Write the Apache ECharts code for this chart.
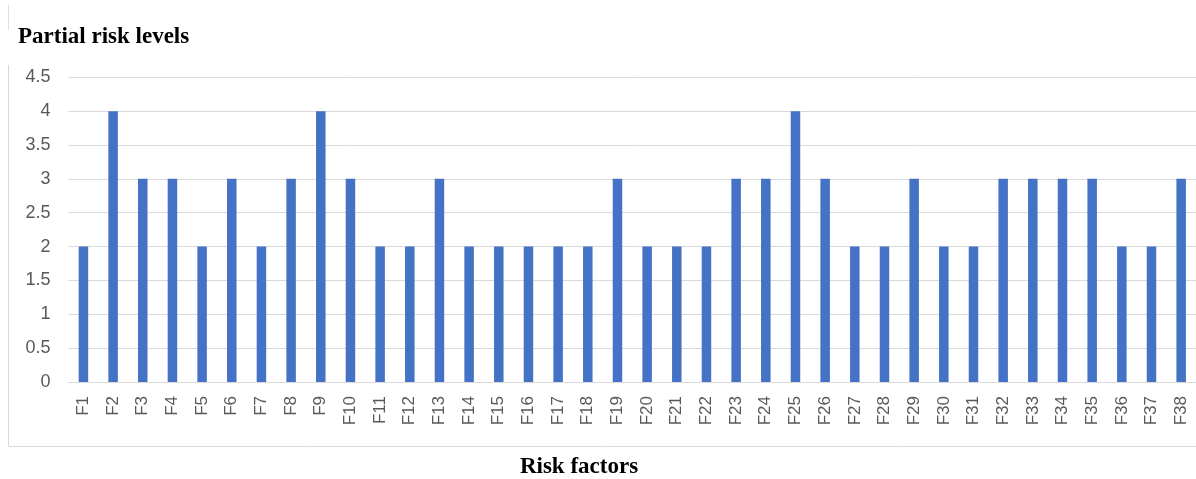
<!DOCTYPE html>
<html>
<head>
<meta charset="utf-8">
<script src="https://cdn.jsdelivr.net/npm/echarts@6/dist/echarts.min.js"></script>
<style>html,body{margin:0;padding:0;background:#fff;}#c{width:1196px;height:479px;}</style>
</head>
<body>
<div id="c"></div>
<script>
const categories = ['F1','F2','F3','F4','F5','F6','F7','F8','F9','F10','F11','F12','F13','F14','F15','F16','F17','F18','F19','F20','F21','F22','F23','F24','F25','F26','F27','F28','F29','F30','F31','F32','F33','F34','F35','F36','F37','F38'];
const riskLevels = [2,4,3,3,2,3,2,3,4,3,2,2,3,2,2,2,2,2,3,2,2,2,3,3,4,3,2,2,3,2,2,3,3,3,3,2,2,3];
const yTicks = [0,0.5,1,1.5,2,2.5,3,3.5,4,4.5];
const titleText = 'Partial risk levels';
const xTitleText = 'Risk factors';

const chart = echarts.init(document.getElementById('c'), null, {renderer:'canvas'});
chart.setOption({
  animation: false,
  backgroundColor: '#fff',
  grid: {left: 68.6, right: -5.4, top: 77.3, bottom: 479-382},
  xAxis: {
    type: 'category', data: categories,
    axisLine: {show: true, lineStyle: {color: '#d9d9d9', width: 1}},
    axisTick: {show: false},
    axisLabel: {rotate: 90, margin: 14, interval: 0, fontFamily: 'Liberation Sans', fontSize: 17, color: '#595959'}
  },
  yAxis: {
    type: 'value', min: 0, max: yTicks[yTicks.length-1], interval: 0.5,
    axisLine: {show: false}, axisTick: {show: false},
    splitLine: {lineStyle: {color: '#d9d9d9', width: 1}},
    axisLabel: {margin: 18, fontFamily: 'Liberation Sans', fontSize: 18, color: '#595959'}
  },
  series: [{
    type: 'bar', data: riskLevels, barWidth: 9.5,
    itemStyle: {color: '#4472C4'}
  }],
  graphic: [
    {type: 'line', shape: {x1: 8.5, y1: 5, x2: 8.5, y2: 30}, style: {stroke: '#e0e0e0', lineWidth: 1}},
    {type: 'line', shape: {x1: 8.5, y1: 65, x2: 8.5, y2: 446.5}, style: {stroke: '#d9d9d9', lineWidth: 1}},
    {type: 'line', shape: {x1: 8.5, y1: 446.5, x2: 1196, y2: 446.5}, style: {stroke: '#d9d9d9', lineWidth: 1}},
    {type: 'text', x: 18, y: 37, style: {text: titleText, fontFamily: 'Liberation Serif', fontWeight: 'bold', fontSize: 23, fill: '#000', align: 'left', verticalAlign: 'middle'}},
    {type: 'text', x: 579, y: 467, style: {text: xTitleText, fontFamily: 'Liberation Serif', fontWeight: 'bold', fontSize: 23, fill: '#000', align: 'center', verticalAlign: 'middle'}}
  ]
});
</script>
</body>
</html>
